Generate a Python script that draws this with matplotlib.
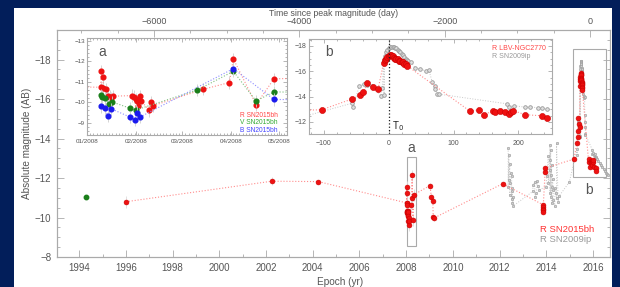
import numpy as np
import matplotlib
matplotlib.use('Agg')
import matplotlib.pyplot as plt
from matplotlib.patches import Rectangle
from matplotlib.ticker import MultipleLocator

plt.rcParams['font.family'] = ['Liberation Sans', 'DejaVu Sans']

# ---- data ----
# SN2015bh R band, main panel points outside the two zoom boxes (epoch yr, abs mag)
main_yr_r = [1996.0, 2002.25, 2004.24, 2009.02, 2009.08, 2009.14, 2009.16, 2009.20,
             2012.13, 2013.86, 2013.86, 2013.86, 2013.86, 2013.86, 2013.95, 2013.95]
main_mag_r = [-10.8, -11.84, -11.82, -11.62, -11.06, -10.86, -10.05, -9.98,
              -11.71, -10.65, -10.55, -10.45, -10.38, -10.30, -12.30, -12.50]
main_err_r = [0.3, 0.2, 0.1, 0.15, 0.15, 0.15, 0.15, 0.15,
              0.1, 0.1, 0.1, 0.1, 0.1, 0.1, 0.1, 0.1]

# V band archival point
main_yr_v = [1994.3]
main_mag_v = [-11.06]

# SN2009ip (shifted), main panel scatter before the outburst
main_yr_g = [2012.37, 2012.40, 2012.44, 2012.48, 2012.52, 2012.40, 2012.46, 2012.37,
             2012.55, 2012.52, 2012.44, 2012.59, 2012.52, 2012.55, 2012.59,
             2013.42, 2013.44, 2013.51, 2013.58, 2013.61, 2013.65, 2013.70, 2013.51,
             2013.99, 2014.02, 2014.16, 2014.19, 2014.09, 2014.16, 2014.23, 2014.14,
             2014.19, 2014.27, 2014.09, 2014.23, 2014.30, 2014.16, 2014.19, 2014.30,
             2014.23, 2014.37, 2014.42, 2014.37, 2014.44, 2014.51, 2014.56, 2014.44,
             2014.99]
main_mag_g = [-13.52, -13.18, -12.72, -12.28, -12.08, -11.91, -11.74, -11.57,
              -11.49, -11.32, -11.15, -11.06, -10.93, -10.73, -10.59,
              -11.32, -11.66, -11.78, -11.24, -11.83, -11.61, -11.40, -11.04,
              -11.57, -12.08, -13.68, -13.43, -13.13, -12.92, -12.67, -12.42,
              -12.16, -11.95, -11.74, -11.57, -11.40, -11.24, -11.06, -10.90,
              -10.73, -10.56, -11.24, -11.49, -10.98, -10.81, -11.10, -13.77,
              -11.80]

# zoom a: days since 2008-01-01
a_day_r = [8.6, 9.0, 9.9, 10.3, 12.0, 13.2, 14.5, 15.3, 16.6, 28.4, 29.6, 30.9, 31.7,
           32.1, 33.4, 34.2, 39.3, 40.3, 41.4, 73.3, 89.7, 92.2, 106.5, 117.8]
a_mag_r = [-10.74, -11.54, -11.26, -10.72, -10.64, -10.33, -10.28, -10.22, -10.30,
           -10.33, -10.28, -10.17, -10.07, -9.80, -10.30, -10.06, -9.60, -10.00,
           -9.83, -10.64, -10.97, -12.13, -9.89, -11.15]
a_day_v = [9.0, 9.4, 11.2, 13.7, 15.8, 27.1, 30.9, 69.5, 92.2, 106.5, 117.8, 180]
a_mag_v = [-10.37, -10.28, -10.20, -9.93, -10.02, -9.71, -9.63, -10.60, -11.52,
           -10.07, -10.51, -10.45]
a_day_b = [9.0, 11.2, 13.2, 15.3, 27.1, 30.4, 31.3, 33.4, 92.2, 117.8, 180]
a_mag_b = [-9.80, -9.70, -9.34, -9.68, -9.28, -9.15, -9.50, -9.28, -11.65, -10.14, -10.10]
a_err = 0.3

# zoom b: days since peak (T0)
T0_YR = 2015.47
b_day_r = [-103.6, -57.4, -44.1, -39.0, -32.8, -23.6, -16.4, -8, -6, -4, -2, 0, 2, 4, 6,
           8, 10, 12, 14, 16, 18, 20, 22, 24, 26, 28, 126, 139, 146.7, 161, 163.5,
           172, 180, 186, 189, 192, 211, 236, 244]
b_mag_r = [-12.96, -13.80, -14.09, -14.40, -15.06, -14.75, -14.60, -16.64, -16.90,
           -17.00, -17.10, -17.20, -17.30, -17.25, -17.20, -17.05, -17.00, -17.00,
           -16.95, -16.85, -16.80, -16.75, -16.70, -16.60, -16.55, -16.45, -12.83,
           -12.96, -12.57, -12.88, -12.80, -12.83, -12.78, -12.65, -12.80, -12.90,
           -12.57, -12.49, -12.34]
b_day_g = [-55.9, -55.0, -45.7, -38.0, -33.0, -25.1, -12.3, -9.7, -7.2,
           -8, -6, -4, -2, 0, 2, 4, 6, 8, 10, 12, 14, 16, 18, 20, 22, 24, 26, 28, 30,
           34, 41, 49, 58, 62, 67, 71, 72, 75, 77, 183, 185, 193, 211, 218, 231, 236,
           244, 260, 280, 300, 320, 340, 360, 380, 400, 420, 435]
b_mag_g = [-13.49, -13.17, -14.80, -15.00, -14.90, -14.85, -14.06, -14.67, -14.14,
           -16.8, -17.2, -17.5, -17.7, -17.8, -17.9, -17.95, -17.95, -17.9, -17.85,
           -17.8, -17.7, -17.6, -17.5, -17.4, -17.3, -17.15, -17.0, -16.9, -16.8,
           -16.76, -16.24, -16.16, -16.03, -16.10, -15.19, -14.85, -14.59, -14.22,
           -14.20, -13.43, -13.20, -13.28, -13.17, -13.22, -13.09, -13.09, -13.00,
           -12.95, -12.85, -12.75, -12.65, -12.55, -12.45, -12.35, -12.28, -12.20,
           -12.15]

# ---- combine everything on the epoch scale ----
yr_r = np.concatenate([main_yr_r, 2008 + np.array(a_day_r) / 366.0,
                       T0_YR + np.array(b_day_r) / 365.25])
mag_r = np.concatenate([main_mag_r, a_mag_r, b_mag_r])
err_r = np.concatenate([main_err_r, np.full(len(a_day_r), a_err),
                        np.full(len(b_day_r), 0.05)])
o = np.argsort(yr_r, kind='stable')
yr_r, mag_r, err_r = yr_r[o], mag_r[o], err_r[o]

yr_g = np.concatenate([main_yr_g, T0_YR + np.array(b_day_g) / 365.25])
mag_g = np.concatenate([main_mag_g, b_mag_g])
o = np.argsort(yr_g, kind='stable')
yr_g, mag_g = yr_g[o], mag_g[o]

NAVY = '#021e5a'
RED = '#ee1111'
GREEN = '#1a7f1a'
BLUE = '#1a1aee'
TXT = '#555555'
SPINE = '#aaaaaa'
W, H = 620, 287

fig = plt.figure(figsize=(6.2, 2.87), dpi=100, facecolor=NAVY)
fig.patches.append(Rectangle((14 / W, 0), 598 / W, 1 - 8 / H, transform=fig.transFigure,
                             facecolor='white', edgecolor='none', zorder=-1))


def style(a, lsize, pad, major=3, minor=1.5):
    for s in a.spines.values():
        s.set_color(SPINE)
        s.set_linewidth(0.8)
    a.tick_params(which='both', direction='in', color=SPINE, labelcolor=TXT,
                  labelsize=lsize, pad=pad, top=True, right=True, width=0.6)
    a.tick_params(which='major', length=major)
    a.tick_params(which='minor', length=minor)


# ---- main panel ----
ax = fig.add_axes([57 / W, 1 - 257 / H, 553 / W, 227 / H])
ax.set_facecolor('none')
ax.set_xlim(1993.05, 2016.73)
ax.set_ylim(-8, -19.5)
ax.set_xticks(np.arange(1994, 2017, 2))
ax.set_yticks([-8, -10, -12, -14, -16, -18])
ax.xaxis.set_minor_locator(MultipleLocator(1))
ax.yaxis.set_minor_locator(MultipleLocator(0.5))
style(ax, 7, 4, major=5, minor=2.5)
ax.tick_params(top=False)

ax.add_patch(Rectangle((2008.05, -13.06), 0.36, 4.49, fill=False, ec=SPINE, lw=0.8))
ax.add_patch(Rectangle((2015.13, -18.53), 1.42, 6.48, fill=False, ec=SPINE, lw=0.8))
ax.text(2008.23, -13.5, 'a', color=TXT, fontsize=10, ha='center', va='center')
ax.text(2015.84, -11.4, 'b', color=TXT, fontsize=10, ha='center', va='center')

ax.plot(yr_g, mag_g, ls=':', color='#c8c8c8', lw=0.7)
ax.plot(yr_g, mag_g, 'o', ms=1.8, mfc='#d0d0d0', mec='#999999', mew=0.4, ls='none')
ax.errorbar(yr_r, mag_r, yerr=err_r, fmt='none', ecolor='#dddddd', elinewidth=0.6)
ax.plot(yr_r, mag_r, ls=':', color='#ff8c8c', lw=0.8)
ax.plot(yr_r, mag_r, 'o', ms=3.5, mfc=RED, mec='#cc0000', mew=0.4, ls='none')
ax.plot(main_yr_v, main_mag_v, 'o', ms=3.2, mfc=GREEN, mec=GREEN, ls='none')

ax.text(0.873, 0.119, 'R SN2015bh', color='#ff3333', fontsize=6.8, transform=ax.transAxes,
        va='center')
ax.text(0.873, 0.075, 'R SN2009ip', color='#999999', fontsize=6.8, transform=ax.transAxes,
        va='center')

ax_top = ax.twiny()
ax_top.set_xlim(-7335, 275)
ax_top.set_xticks([-6000, -4000, -2000, 0])
ax_top.xaxis.set_minor_locator(MultipleLocator(500))
style(ax_top, 6.5, 3, major=5, minor=2.5)
ax_top.tick_params(bottom=False, left=False, right=False)

fig.text(334 / W, 1 - 13 / H, 'Time since peak magnitude (day)', color=TXT, fontsize=6.3,
         ha='center', va='center')
fig.text(340 / W, 1 - 282 / H, 'Epoch (yr)', color=TXT, fontsize=7.2,
         ha='center', va='center')
fig.text(27 / W, 1 - 143 / H, 'Absolute magnitude (AB)', color=TXT, fontsize=7.2,
         ha='center', va='center', rotation=90)

# ---- inset a ----
axa = fig.add_axes([87 / W, 1 - 135 / H, 200 / W, 97 / H])
axa.set_zorder(3)
axa.set_facecolor('white')
axa.set_xlim(0, 126)
axa.set_ylim(-8.4, -13.15)
axa.set_xticks([0, 31, 60, 91, 121])
axa.set_xticklabels(['01/2008', '02/2008', '03/2008', '04/2008', '05/2008'])
axa.set_yticks([-13, -12, -11, -10, -9])
axa.xaxis.set_minor_locator(MultipleLocator(2))
axa.yaxis.set_minor_locator(MultipleLocator(0.2))
style(axa, 4.5, 3, major=3, minor=1.2)
axa.tick_params(axis='y', pad=1.5)

xa_r = (yr_r - 2008) * 366.0
for xs, ms_, col, lc in [(xa_r, mag_r, RED, '#ff8c8c'),
                         (np.array(a_day_v), np.array(a_mag_v), GREEN, '#7fbf7f'),
                         (np.array(a_day_b), np.array(a_mag_b), BLUE, '#8c8cff')]:
    axa.errorbar(xs, ms_, yerr=a_err, fmt='none', ecolor='#cfcfcf', elinewidth=0.6)
    axa.plot(xs, ms_, ls=':', color=lc, lw=0.8)
    axa.plot(xs, ms_, 'o', ms=3.4, mfc=col, mec=col, ls='none')

axa.text(0.055, 0.856, 'a', color=TXT, fontsize=10, transform=axa.transAxes, va='center')
for yy, lab, col in [(0.196, 'R SN2015bh', '#ff4444'), (0.124, 'V SN2015bh', '#33aa33'),
                     (0.045, 'B SN2015bh', '#4444ff')]:
    axa.text(0.955, yy, lab, color=col, fontsize=4.8, transform=axa.transAxes,
             ha='right', va='center')

# ---- inset b ----
axb = fig.add_axes([309 / W, 1 - 134 / H, 243 / W, 95 / H])
axb.set_zorder(3)
axb.set_facecolor('white')
axb.set_xlim(-123, 252)
axb.set_ylim(-11.05, -18.55)
axb.set_xticks([-100, 0, 100, 200])
axb.set_yticks([-18, -16, -14, -12])
axb.xaxis.set_minor_locator(MultipleLocator(20))
axb.yaxis.set_minor_locator(MultipleLocator(0.5))
style(axb, 5, 4, major=3, minor=1.5)
axb.tick_params(axis='y', pad=1.5)

xb_r = (yr_r - T0_YR) * 365.25
xb_g = (yr_g - T0_YR) * 365.25
axb.plot(xb_g, mag_g, ls=':', color='#c8c8c8', lw=0.7)
axb.plot(xb_g, mag_g, 'o', ms=2.6, mfc='#e0e0e0', mec='#999999', mew=0.6, ls='none')
axb.plot(xb_r, mag_r, ls=':', color='#ff8c8c', lw=0.8)
axb.plot(xb_r, mag_r, 'o', ms=4.4, mfc=RED, mec='#cc0000', mew=0.4, ls='none')
axb.axvline(0, color='#222222', ls=':', lw=0.9)
axb.text(5, -11.7, 'T$_0$', color='#222222', fontsize=7, va='center')

axb.text(0.066, 0.863, 'b', color=TXT, fontsize=10, transform=axb.transAxes, va='center')
axb.text(0.753, 0.905, 'R LBV-NGC2770', color='#ff4444', fontsize=5, transform=axb.transAxes,
         va='center')
axb.text(0.753, 0.82, 'R SN2009ip', color='#999999', fontsize=5, transform=axb.transAxes,
         va='center')

fig.savefig('out.png', dpi=100, facecolor=fig.get_facecolor())
